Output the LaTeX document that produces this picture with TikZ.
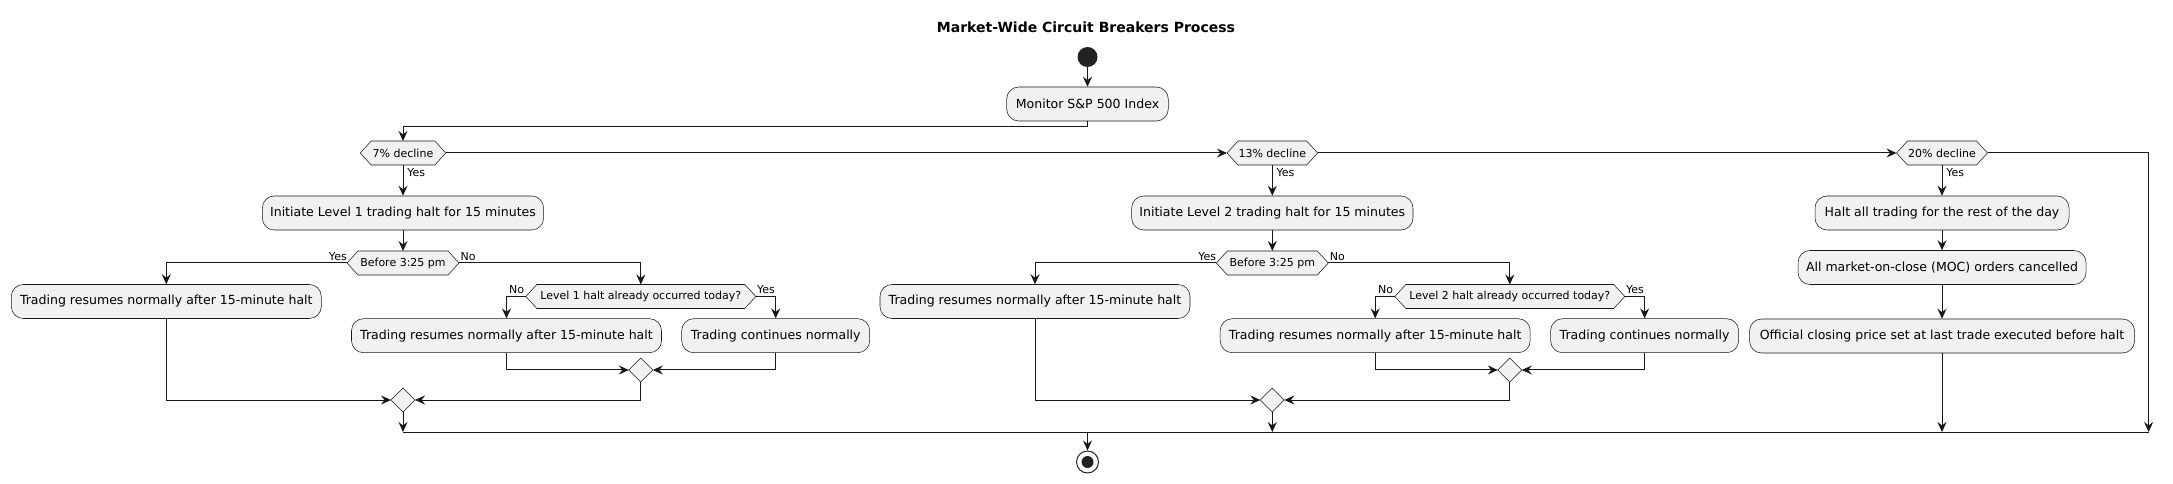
\documentclass[tikz,border=0pt]{standalone}
\usepackage{fontspec}
\setmainfont{DejaVu Sans}
\usetikzlibrary{arrows.meta,shapes.geometric}
\pgfdeclarelayer{background}
\pgfsetlayers{background,main}
\definecolor{fillc}{HTML}{F1F1F1}
\definecolor{linec}{HTML}{181818}
\definecolor{dotc}{HTML}{222222}
\tikzset{
  act/.style={draw=linec, line width=0.4pt, fill=fillc, rounded corners=9pt, minimum height=25.5pt, inner sep=0pt, font=\fontsize{9.4pt}{11pt}\selectfont},
  hexn/.style={inner sep=0pt, outer sep=0pt, minimum height=18pt, font=\fontsize{8.25pt}{10pt}\selectfont},
  hexline/.style={draw=linec, line width=0.4pt, fill=fillc},
  merge/.style={diamond, draw=linec, line width=0.4pt, fill=fillc, inner sep=0pt, outer sep=0pt, minimum width=18pt, minimum height=18pt},
  flow/.style={draw=linec, line width=0.75pt, -{Stealth[length=7.5pt,width=6.75pt,inset=2.6pt]}},
  plain/.style={draw=linec, line width=0.75pt},
  lbl/.style={inner sep=0pt, font=\fontsize{8.25pt}{10pt}\selectfont},
}
\newcommand{\hexdraw}[1]{%
  \begin{pgfonlayer}{background}
  \path[hexline] (#1.west) -- ([xshift=8.25pt]#1.north west) -- ([xshift=-8.25pt]#1.north east) -- (#1.east) -- ([xshift=-8.25pt]#1.south east) -- ([xshift=8.25pt]#1.south west) -- cycle;
  \end{pgfonlayer}}
\begin{document}
\begin{tikzpicture}[x=0.75pt,y=-0.75pt]
\useasboundingbox (0,0) rectangle (2173,484);

% title
\node[font=\bfseries\fontsize{10.5pt}{12pt}\selectfont] (title) at (1086,27.5) {Market-Wide Circuit Breakers Process};

% start
\node[circle, fill=dotc, minimum size=15pt, inner sep=0pt] (start) at (1087.5,57) {};
\node[act, minimum width=121.2pt] (monitor) at (1087.5,104) {Monitor S\&P 500 Index};

% decisions on decline
\node[hexn, minimum width=64.2pt] (d7) at (403,153) {7\% decline};
\node[hexn, minimum width=68pt] (d13) at (1272.3,153) {13\% decline};
\node[hexn, minimum width=68.25pt] (d20) at (1942,153) {20\% decline};
\hexdraw{d7}\hexdraw{d13}\hexdraw{d20}

\node[act, minimum width=211pt] (init1) at (403,213) {Initiate Level 1 trading halt for 15 minutes};
\node[act, minimum width=211pt] (init2) at (1272.3,213) {Initiate Level 2 trading halt for 15 minutes};
\node[act, minimum width=190.5pt] (halt) at (1942,213) {Halt all trading for the rest of the day};

\node[hexn, minimum width=84pt] (b1) at (403,263) {Before 3:25 pm};
\node[hexn, minimum width=84pt] (b2) at (1272.3,263) {Before 3:25 pm};
\hexdraw{b1}\hexdraw{b2}

\node[act, minimum width=232.5pt] (res1a) at (166.3,301.5) {Trading resumes normally after 15-minute halt};
\node[act, minimum width=232.5pt] (res2a) at (1035,301.5) {Trading resumes normally after 15-minute halt};

\node[hexn, minimum width=172.5pt] (l1) at (640.8,296.5) {Level 1 halt already occurred today?};
\node[hexn, minimum width=172.5pt] (l2) at (1509.8,296.5) {Level 2 halt already occurred today?};
\hexdraw{l1}\hexdraw{l2}

\node[act, minimum width=216pt] (moc) at (1942,267.5) {All market-on-close (MOC) orders cancelled};

\node[act, minimum width=232.5pt] (res1b) at (506.5,335.7) {Trading resumes normally after 15-minute halt};
\node[act, minimum width=141pt] (cont1) at (775.7,335.7) {Trading continues normally};
\node[act, minimum width=232.5pt] (res2b) at (1375.2,335.7) {Trading resumes normally after 15-minute halt};
\node[act, minimum width=141pt] (cont2) at (1644.6,335.7) {Trading continues normally};
\node[act, minimum width=288.75pt] (official) at (1942,336) {Official closing price set at last trade executed before halt};

\node[merge] (m1a) at (640.8,370) {};
\node[merge] (m2a) at (1509.8,370) {};
\node[merge] (m1b) at (403,400) {};
\node[merge] (m2b) at (1272.3,400) {};

\node[circle, draw=dotc, line width=0.75pt, fill=white, minimum size=16.5pt, inner sep=0pt] (end) at (1087.5,462) {};
\fill[dotc] (end.center) circle (4.5pt);

\coordinate (jL) at (403,432);
\coordinate (jR) at (2148.6,432);
\coordinate (jE) at (1087.5,432);

% connectors
\draw[flow] (start) -- (monitor.north);
\draw[flow] (monitor.south) -- ++(0,5) -| (d7.north);
\draw[flow] (d7.east) -- (d13.west);
\draw[flow] (d13.east) -- (d20.west);
\draw[flow] (d20.east) -| (jR);

\draw[flow] (d7.south) -- (init1.north);
\draw[flow] (d13.south) -- (init2.north);
\draw[flow] (d20.south) -- (halt.north);
\node[lbl, anchor=north west] at ([xshift=3pt,yshift=-2.25pt]d7.south) {Yes};
\node[lbl, anchor=north west] at ([xshift=3pt,yshift=-2.25pt]d13.south) {Yes};
\node[lbl, anchor=north west] at ([xshift=3pt,yshift=-2.25pt]d20.south) {Yes};

\draw[flow] (init1.south) -- (b1.north);
\draw[flow] (init2.south) -- (b2.north);
\draw[flow] (halt.south) -- (moc.north);
\draw[flow] (moc.south) -- (official.north);

% level 1 branches
\draw[flow] (b1.west) -| (res1a.north);
\draw[flow] (b1.east) -| (l1.north);
\node[lbl, anchor=south east] at ([yshift=1.5pt]b1.west) {Yes};
\node[lbl, anchor=south west] at ([xshift=1pt,yshift=1.5pt]b1.east) {No};
\draw[flow] (l1.west) -| (res1b.north);
\draw[flow] (l1.east) -| (cont1.north);
\node[lbl, anchor=south east] at ([xshift=-1.1pt,yshift=1.9pt]l1.west) {No};
\node[lbl, anchor=south west] at ([xshift=0.8pt,yshift=1.9pt]l1.east) {Yes};
\draw[flow] (res1b.south) |- (m1a.west);
\draw[flow] (cont1.south) |- (m1a.east);
\draw[flow] (res1a.south) |- (m1b.west);
\draw[flow] (m1a.south) |- (m1b.east);

% level 2 branches
\draw[flow] (b2.west) -| (res2a.north);
\draw[flow] (b2.east) -| (l2.north);
\node[lbl, anchor=south east] at ([yshift=1.5pt]b2.west) {Yes};
\node[lbl, anchor=south west] at ([xshift=1pt,yshift=1.5pt]b2.east) {No};
\draw[flow] (l2.west) -| (res2b.north);
\draw[flow] (l2.east) -| (cont2.north);
\node[lbl, anchor=south east] at ([xshift=-1.1pt,yshift=1.9pt]l2.west) {No};
\node[lbl, anchor=south west] at ([xshift=0.8pt,yshift=1.9pt]l2.east) {Yes};
\draw[flow] (res2b.south) |- (m2a.west);
\draw[flow] (cont2.south) |- (m2a.east);
\draw[flow] (res2a.south) |- (m2b.west);
\draw[flow] (m2a.south) |- (m2b.east);

% join
\draw[flow] (m1b.south) -- (jL);
\draw[flow] (m2b.south) -- (m2b.south |- jL);
\draw[flow] (official.south) -- (official.south |- jL);
\draw[plain] (jL) -- (jR);
\draw[flow] (jE) -- (end);
\end{tikzpicture}
\end{document}
